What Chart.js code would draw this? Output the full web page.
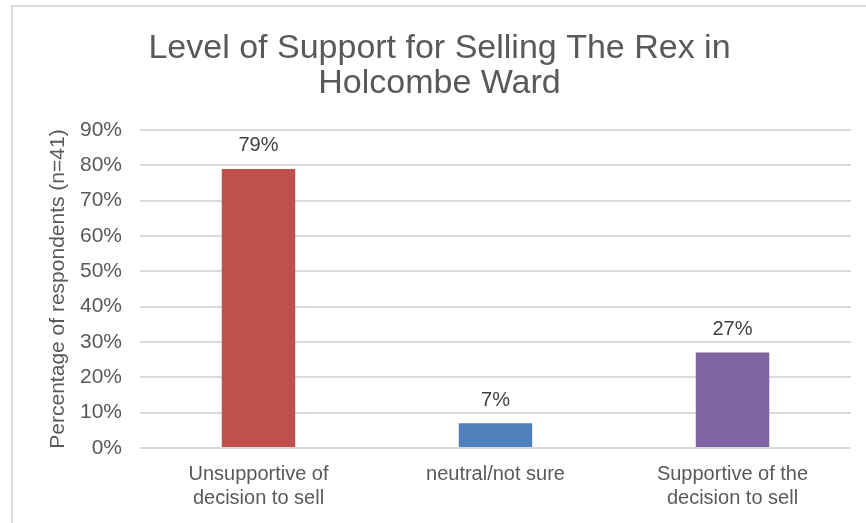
<!DOCTYPE html>
<html>
<head>
<meta charset="utf-8">
<script src="https://cdn.jsdelivr.net/npm/chart.js@4"></script>
<style>
  html, body { margin: 0; padding: 0; background: #fff; }
  #wrap { position: absolute; left: 11px; top: 5px; width: 853px; height: 516px;
          border-top: 2px solid #DCDCDC; border-left: 2px solid #DCDCDC; }
  canvas { display: block; }
</style>
</head>
<body>
<div id="wrap"><canvas id="c" width="853" height="516"></canvas></div>
<script>
const titleLines = ["Level of Support for Selling The Rex in", "Holcombe Ward"];
const categories = [["Unsupportive of", "decision to sell"], ["neutral/not sure"], ["Supportive of the", "decision to sell"]];
const values = [79, 7, 27];
const barColors = ["#C0504D", "#4F81BD", "#8064A2"];
const yAxisTitle = "Percentage of respondents (n=41)";
const yMax = 90;
const yStep = 10;

const FONT = "'Liberation Sans', Arial, Helvetica, sans-serif";

const dataLabels = {
  id: 'dataLabels',
  afterDatasetsDraw(chart) {
    const ctx = chart.ctx;
    const meta = chart.getDatasetMeta(0);
    ctx.save();
    ctx.font = "20px " + FONT;
    ctx.fillStyle = "#404040";
    ctx.textAlign = "center";
    ctx.textBaseline = "middle";
    meta.data.forEach((bar, i) => {
      ctx.fillText(values[i] + "%", bar.x, bar.y - 23);
    });
    ctx.restore();
  }
};

new Chart(document.getElementById('c'), {
  type: 'bar',
  data: {
    labels: categories,
    datasets: [{
      data: values,
      backgroundColor: barColors,
      borderWidth: 0,
      barPercentage: 0.31,
      categoryPercentage: 1.0
    }]
  },
  options: {
    responsive: false,
    animation: false,
    devicePixelRatio: 1,
    layout: { padding: { left: 15, right: 15, top: 0, bottom: 0 } },
    plugins: {
      legend: { display: false },
      tooltip: { enabled: false },
      title: {
        display: true,
        text: titleLines,
        color: "#595959",
        font: { family: FONT, size: 34, weight: 'normal', lineHeight: 1.03 },
        padding: { top: 24, bottom: 29 }
      }
    },
    scales: {
      x: {
        grid: { display: false },
        border: { display: false },
        ticks: {
          color: "#595959",
          font: { family: FONT, size: 20, lineHeight: 1.2 },
          padding: 6,
          maxRotation: 0,
          autoSkip: false
        },
        afterFit(s) { s.height = 75; }
      },
      y: {
        min: 0,
        max: yMax,
        ticks: {
          stepSize: yStep,
          color: "#595959",
          font: { family: FONT, size: 21 },
          padding: 18,
          callback: v => v + "%"
        },
        grid: { color: "#D9D9D9", lineWidth: 2, drawTicks: false },
        border: { display: false },
        title: {
          display: true,
          text: yAxisTitle,
          color: "#595959",
          font: { family: FONT, size: 21, lineHeight: 1.2 },
          padding: { top: 18, bottom: 0 }
        },
        afterFit(s) { s.width = 112; }
      }
    }
  },
  plugins: [dataLabels]
});
</script>
</body>
</html>
